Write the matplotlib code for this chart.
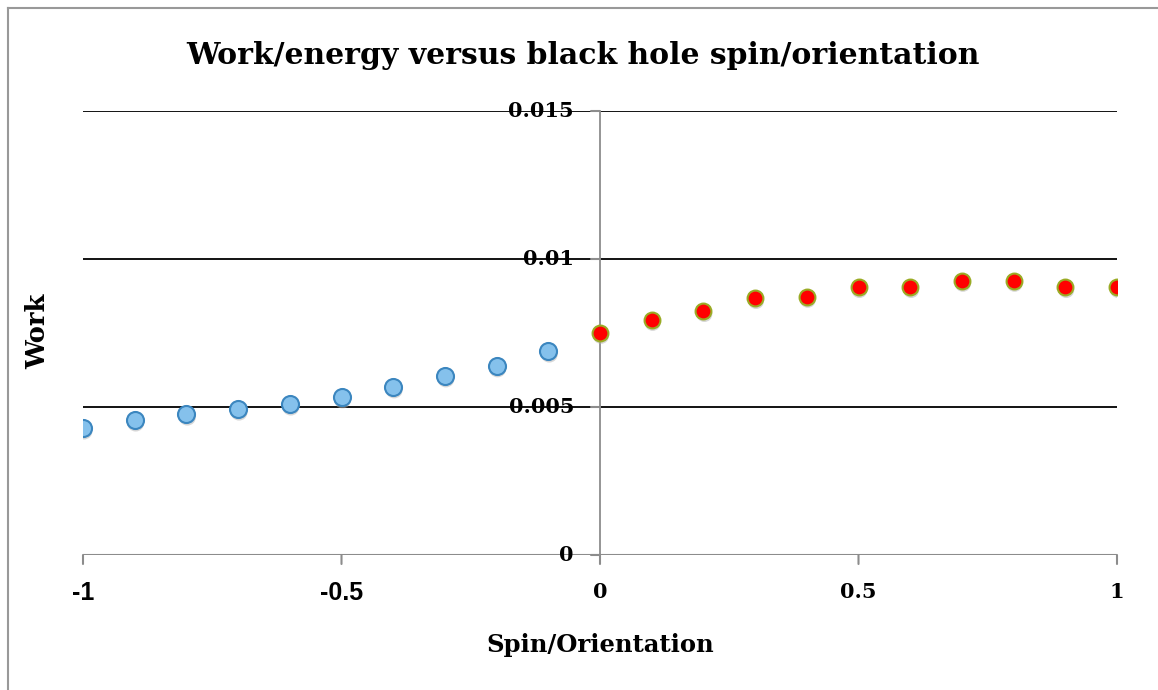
import numpy as np
import matplotlib.pyplot as plt
from matplotlib.lines import Line2D
import matplotlib.transforms as mtransforms

# spin/orientation values and work
spin_neg = [-1.0, -0.9, -0.8, -0.7, -0.6, -0.5, -0.4, -0.3, -0.2, -0.1]
work_neg = [0.00429, 0.00456, 0.00476, 0.00493, 0.00510, 0.00534, 0.00568, 0.00605, 0.00639, 0.00689]
spin_pos = [0.0, 0.1, 0.2, 0.3, 0.4, 0.5, 0.6, 0.7, 0.8, 0.9, 1.0]
work_pos = [0.00750, 0.00794, 0.00824, 0.00868, 0.00872, 0.00905, 0.00905, 0.00926, 0.00926, 0.00905, 0.00905]

x_ticks = [-1, -0.5, 0, 0.5, 1]
x_labels = ['-1', '-0.5', '0', '0.5', '1']
y_ticks = [0, 0.005, 0.01, 0.015]
y_labels = ['0', '0.005', '0.01', '0.015']

serif = ['DejaVu Serif']
fig = plt.figure(figsize=(11.58, 6.9), dpi=100)
ax = fig.add_axes([83/1158, 1-555/690, (1117-83)/1158, (555-111)/690])
ax.set_xlim(-1, 1)
ax.set_ylim(0, 0.015)

# outer frame (left and top only visible)
fig.add_artist(Line2D([8/1158, 8/1158], [0, 1-8/690], color='#999999', lw=1.5, transform=fig.transFigure))
fig.add_artist(Line2D([8/1158, 1], [1-8/690, 1-8/690], color='#999999', lw=1.5, transform=fig.transFigure))

for s in ax.spines.values():
    s.set_visible(False)

# gridlines
for yv in y_ticks[1:]:
    ax.axhline(yv, color='black', lw=1.3, zorder=1)
# axes lines
ax.axhline(0, color='#8c8c8c', lw=1.5, zorder=2)
ax.axvline(0, color='#8c8c8c', lw=1.3, zorder=2)

ax.set_xticks([])
ax.set_yticks([])
for xv, lab in zip(x_ticks, x_labels):
    ax.annotate('', xy=(xv, 0), xytext=(0, -9), textcoords='offset pixels',
                arrowprops=dict(arrowstyle='-', color='#8c8c8c', lw=1.5, shrinkA=0, shrinkB=0))
    if lab.startswith('-'):
        ax.annotate(lab, xy=(xv, 0), xytext=(0, -38), textcoords='offset pixels', ha='center', va='center',
                    fontsize=18, fontweight='bold', family=['Liberation Sans'])
    else:
        ax.annotate(lab, xy=(xv, 0), xytext=(0, -37), textcoords='offset pixels', ha='center', va='center',
                    fontsize=15, fontweight='bold', family=serif)
for yv, lab in zip(y_ticks, y_labels):
    ax.annotate('', xy=(0, yv), xytext=(-9, 0), textcoords='offset pixels',
                arrowprops=dict(arrowstyle='-', color='#8c8c8c', lw=1.5, shrinkA=0, shrinkB=0))
    ax.annotate(lab, xy=(0, yv), xytext=(-26, 0), textcoords='offset pixels', ha='right', va='center',
                fontsize=15, fontweight='bold', family=serif)

# shadows
shadow = mtransforms.offset_copy(ax.transData, fig=fig, x=1, y=-3, units='dots')
ax.scatter(spin_neg, work_neg, s=150, color='#b0b0b0', alpha=0.5, edgecolors='none', transform=shadow, zorder=3)
ax.scatter(spin_pos, work_pos, s=130, color='#b0b0b0', alpha=0.5, edgecolors='none', transform=shadow, zorder=3)

ax.scatter(spin_neg, work_neg, s=150, color='#85c1ec', edgecolors='#3b86bf', linewidths=1.5, zorder=4)
ax.scatter(spin_pos, work_pos, s=130, color='#ff0000', edgecolors='#9aab24', linewidths=1.5, zorder=4)

fig.text(583/1158, 1-55/690, 'Work/energy versus black hole spin/orientation', ha='center', va='center',
         fontsize=21.5, fontweight='bold', family=serif)
fig.text(600/1158, 1-645/690, 'Spin/Orientation', ha='center', va='center',
         fontsize=17.5, fontweight='bold', family=serif)
fig.text(38/1158, 1-331/690, 'Work', ha='center', va='center', rotation=90,
         fontsize=18.5, fontweight='bold', family=serif)

fig.savefig('out.png', dpi=100)
